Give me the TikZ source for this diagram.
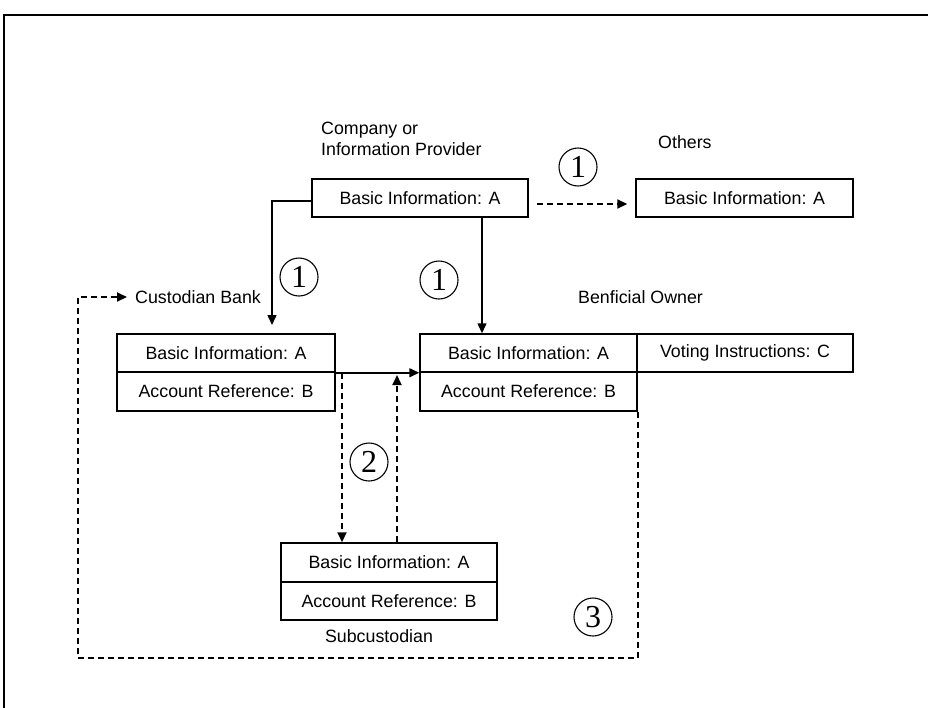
\documentclass[tikz,border=0pt]{standalone}
\usepackage{fontspec}
\setmainfont{Liberation Sans}
\newfontfamily\numfont{Liberation Serif}
\usetikzlibrary{arrows.meta}
\tikzset{
  field/.style={draw, line width=1.5pt, inner sep=0pt, minimum height=38pt, font=\fontsize{17.8}{21}\selectfont},
  tag/.style={inner sep=0pt, font=\fontsize{17.8}{21}\selectfont},
  numcirc/.style={draw, circle, line width=1.1pt, minimum size=38pt, inner sep=0pt, font=\numfont\fontsize{32}{32}\selectfont},
  arr/.style={line width=1.5pt, -{Triangle[length=10pt,width=9pt]}},
  dasharr/.style={arr, line width=2pt, dash pattern=on 6pt off 4pt},
  dashline/.style={line width=2pt, dash pattern=on 6pt off 4pt}
}
\begin{document}
\begin{tikzpicture}[x=1pt,y=-1pt]
    \clip (0,0) rectangle (928,707);
    \draw[line width=2.6pt] (4,15) rectangle (980,760);

    \node[tag, anchor=west, align=left] (provlabel) at (321,138.5) {Company or\\Information Provider};
    \node[field, minimum width=216pt] (provider) at (420,198) {Basic Information: A};
    \node[tag, anchor=west] (otherslabel) at (658,142) {Others};
    \node[field, minimum width=217pt] (othersbox) at (744.5,198) {Basic Information: A};

    \node[tag, anchor=west] (custlabel) at (135,297) {Custodian Bank};
    \node[field, minimum width=218pt] (cbasic) at (226,353) {Basic Information: A};
    \node[field, minimum width=218pt, minimum height=39pt] (cref) at (226,391.5) {Account Reference: B};

    \node[tag, anchor=west] (benlabel) at (578,297) {Benficial Owner};
    \node[field, minimum width=217pt] (bbasic) at (528.5,353) {Basic Information: A};
    \node[field, minimum width=217pt, minimum height=39pt] (bref) at (528.5,391.5) {Account Reference: B};
    \node[field, minimum width=216pt] (voting) at (745,353) {Voting Instructions: C};

    \node[field, minimum width=216pt, minimum height=39pt] (sbasic) at (389,562.5) {Basic Information: A};
    \node[field, minimum width=216pt] (sref) at (389,601) {Account Reference: B};
    \node[tag] (sublabel) at (379,636) {Subcustodian};

    \node[numcirc] (n1a) at (578,167) {1};
    \node[numcirc] (n1b) at (299,277) {1};
    \node[numcirc] (n1c) at (439,280) {1};
    \node[numcirc] (n2) at (369,462) {2};
    \node[numcirc] (n3) at (593,617) {3};

    \coordinate (cdrop) at (272,325);
    \coordinate (loopcorner) at (78,658);
    \coordinate (upend) at (397,375);

    \draw[arr] ([yshift=-3pt]provider.west) -| (cdrop);
    \draw[arr] (provider.south -| 482,0) -- (bbasic.north -| 482,0);
    \draw[dasharr] ([xshift=8pt,yshift=-6pt]provider.east) -- ([xshift=-8pt,yshift=-6pt]othersbox.west);
    \draw[arr] (cbasic.south east) -- (bbasic.south west);
    \draw[dasharr] (cbasic.south east -| 342,0) -- (sbasic.north -| 342,0);
    \draw[dasharr] (sbasic.north -| upend) -- (upend);
    \draw[dasharr] (bref.south east) |- (loopcorner) |- ([xshift=-8pt]custlabel.west);
\end{tikzpicture}
\end{document}
